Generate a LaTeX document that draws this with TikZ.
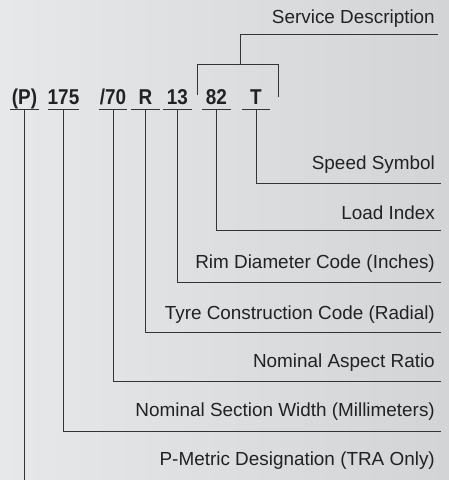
\documentclass[tikz,border=0pt]{standalone}
\usepackage{fontspec}
\setmainfont{Liberation Sans}
\newfontfamily\codefamily[FakeStretch=0.88]{Liberation Sans}
\definecolor{bgleft}{RGB}{231,232,234}
\definecolor{bgright}{RGB}{211,212,214}
\definecolor{linegray}{RGB}{52,52,52}
\definecolor{textgray}{RGB}{34,34,34}
\tikzset{
  code/.style={font=\codefamily\bfseries\fontsize{21.5}{22}\selectfont, text=textgray, inner sep=0pt,
               minimum width=28.5pt, text height=16pt, text depth=4.7pt, anchor=base},
  lbl/.style={font=\fontsize{18.9}{20}\selectfont, text=textgray, inner sep=0pt, anchor=base east},
  wire/.style={draw=linegray, line width=1pt}
}

\begin{document}
\begin{tikzpicture}[x=1pt,y=-1pt]
\fill[left color=bgleft, right color=bgright] (0,0) rectangle (449,480);
\useasboundingbox (0,0) rectangle (449,480);

% Code characters
\node[code] (p) at (24.5,104.3)  {(P)};
\node[code] (w) at (63.5,104.3)  {175};
\node[code] (a) at (113,104.3)   {/70};
\node[code] (r) at (145.5,104.3) {R};
\node[code] (d) at (177.5,104.3) {13};
\node[code] (l) at (216.5,104.3) {82};
\node[code] (s) at (256,104.3)   {T};

\foreach \c in {p,w,a,r,d,l,s}
  \draw[wire] (\c.south west) -- (\c.south east);

% Labels
\node[lbl] (service) at (435,23.3)  {Service Description};
\node[lbl] (speed)   at (435,169.3) {Speed Symbol};
\node[lbl] (load)    at (435,219)   {Load Index};
\node[lbl] (rim)     at (435,268.3) {Rim Diameter Code (Inches)};
\node[lbl] (tyre)    at (435,319.3) {Tyre Construction Code (Radial)};
\node[lbl] (aspect)  at (435,367.3) {Nominal Aspect Ratio};
\node[lbl] (section) at (435,416)   {Nominal Section Width (Millimeters)};
\node[lbl] (pmetric) at (435,465.7) {P-Metric Designation (TRA Only)};

% Line ends
\coordinate (es) at (438,34.3);
\coordinate (ess) at (441,183.3);
\coordinate (el) at (441,230.7);
\coordinate (er) at (441,282.7);
\coordinate (et) at (441,332.3);
\coordinate (ea) at (441,381.7);
\coordinate (ew) at (441,431.7);
\coordinate (bot) at (0,480);

% Leaders
\draw[wire] (s.south) |- (ess);
\draw[wire] (l.south) |- (el);
\draw[wire] (d.south) |- (er);
\draw[wire] (r.south) |- (et);
\draw[wire] (a.south) |- (ea);
\draw[wire] (w.south) |- (ew);
\draw[wire] (p.south) -- (p.south |- bot);

% Service bracket
\coordinate (top) at (240.7,64.3);
\coordinate (bl) at (197.3,95);
\coordinate (br) at (278.7,97);
\draw[wire] (bl) -- (bl |- top) -- (br |- top) -- (br);
\draw[wire] (top) |- (es);

\end{tikzpicture}
\end{document}
